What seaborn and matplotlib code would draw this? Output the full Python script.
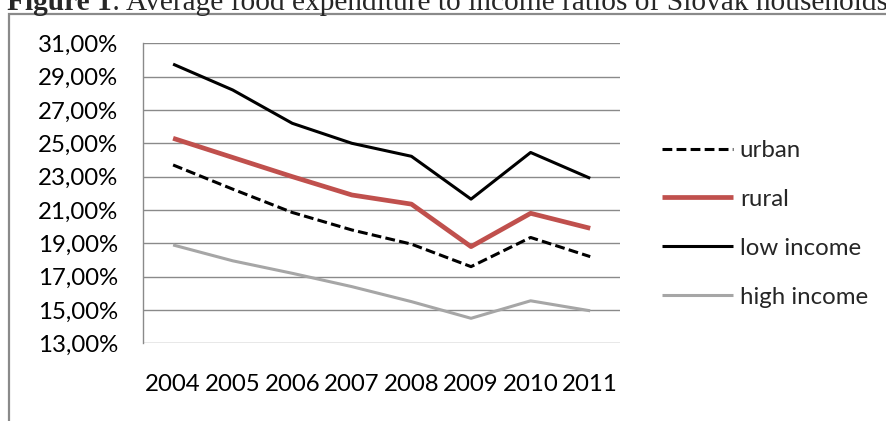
import matplotlib
matplotlib.use("Agg")
import matplotlib.pyplot as plt
import seaborn as sns
import pandas as pd
from matplotlib.patches import Rectangle
from matplotlib.ticker import FuncFormatter

years = [2004, 2005, 2006, 2007, 2008, 2009, 2010, 2011]
urban = [23.7, 22.25, 20.85, 19.8, 18.95, 17.6, 19.35, 18.2]
rural = [25.3, 24.15, 23.0, 21.9, 21.35, 18.8, 20.8, 19.9]
low_income = [29.75, 28.2, 26.2, 25.0, 24.22, 21.65, 24.45, 22.9]
high_income = [18.9, 17.95, 17.2, 16.4, 15.5, 14.5, 15.55, 14.95]
series_names = ["urban", "rural", "low income", "high income"]
y_ticks = [13, 15, 17, 19, 21, 23, 25, 27, 29, 31]
title_bold = "Figure 1"
title_rest = ": Average food expenditure to income ratios of Slovak households"

sns.set_theme(style="white")
plt.rcParams['font.family'] = ['Lato', 'DejaVu Sans']

W, H = 887, 421
FS = 17.3
fig = plt.figure(figsize=(W / 100, H / 100), dpi=100)
ax = fig.add_axes([143.3 / W, 1 - 343.3 / H, (620 - 143.3) / W, (343.3 - 43.3) / H])

df = pd.DataFrame({"year": years, "urban": urban, "rural": rural,
                   "low income": low_income, "high income": high_income})

styles = {
    "urban": dict(color="black", linewidth=2.2, dashes=(3.2, 1.4)),
    "rural": dict(color="#C0504D", linewidth=3.4),
    "low income": dict(color="black", linewidth=2.2),
    "high income": dict(color="#A6A6A6", linewidth=2.2),
}
for name in series_names:
    st = styles[name]
    sns.lineplot(data=df, x="year", y=name, ax=ax, color=st["color"],
                 linewidth=st["linewidth"], label=name)
    line = ax.get_lines()[-1]
    if "dashes" in st:
        line.set_dashes(st["dashes"])
    line.set_solid_capstyle("butt")
    line.set_dash_capstyle("butt")

ax.set_xlim(years[0] - 0.5, years[-1] + 0.5)
ax.set_ylim(y_ticks[0], y_ticks[-1])
ax.set_yticks(y_ticks)
ax.set_xticks(years)
ax.set_xticklabels([str(y) for y in years])
ax.yaxis.set_major_formatter(FuncFormatter(lambda v, p: f"{v:.2f}".replace(".", ",") + "%"))
ax.set_xlabel("")
ax.set_ylabel("")
ax.grid(axis="y", color="#8a8a8a", linewidth=1.0)
ax.grid(axis="x", visible=False)
for s in ["top", "right", "bottom"]:
    ax.spines[s].set_visible(False)
ax.spines["left"].set_color("#8a8a8a")
ax.spines["left"].set_linewidth(1.0)
ax.tick_params(axis="y", length=0, pad=18, labelsize=FS, labelcolor="black")
ax.tick_params(axis="x", length=0, pad=22, labelsize=FS, labelcolor="black")

leg = ax.legend(loc="upper left", bbox_to_anchor=(661.7 / W, 1 - 140 / H),
                bbox_transform=fig.transFigure, frameon=False, fontsize=FS,
                handlelength=2.95, handletextpad=0.3, labelspacing=1.16,
                borderpad=0, borderaxespad=0)

# chart-area frame
fig.patches.append(Rectangle((9.5 / W, -0.2), 1.5, 1 - 13.5 / H + 0.2,
                             transform=fig.transFigure, fill=False,
                             edgecolor="#8a8a8a", linewidth=1.6, clip_on=False))

# title (partly cut off at top, as in the reference)
tb = fig.text(7 / W, 1 - 10.5 / H, title_bold, fontsize=21.2, fontweight="bold",
              family=["Liberation Serif"], va="baseline", ha="left")
fig.canvas.draw()
bb = tb.get_window_extent()
fig.text(bb.x1 / W, 1 - 10.5 / H, title_rest, fontsize=21.2,
         family=["Liberation Serif"], va="baseline", ha="left")

fig.savefig("out.png", dpi=100)
